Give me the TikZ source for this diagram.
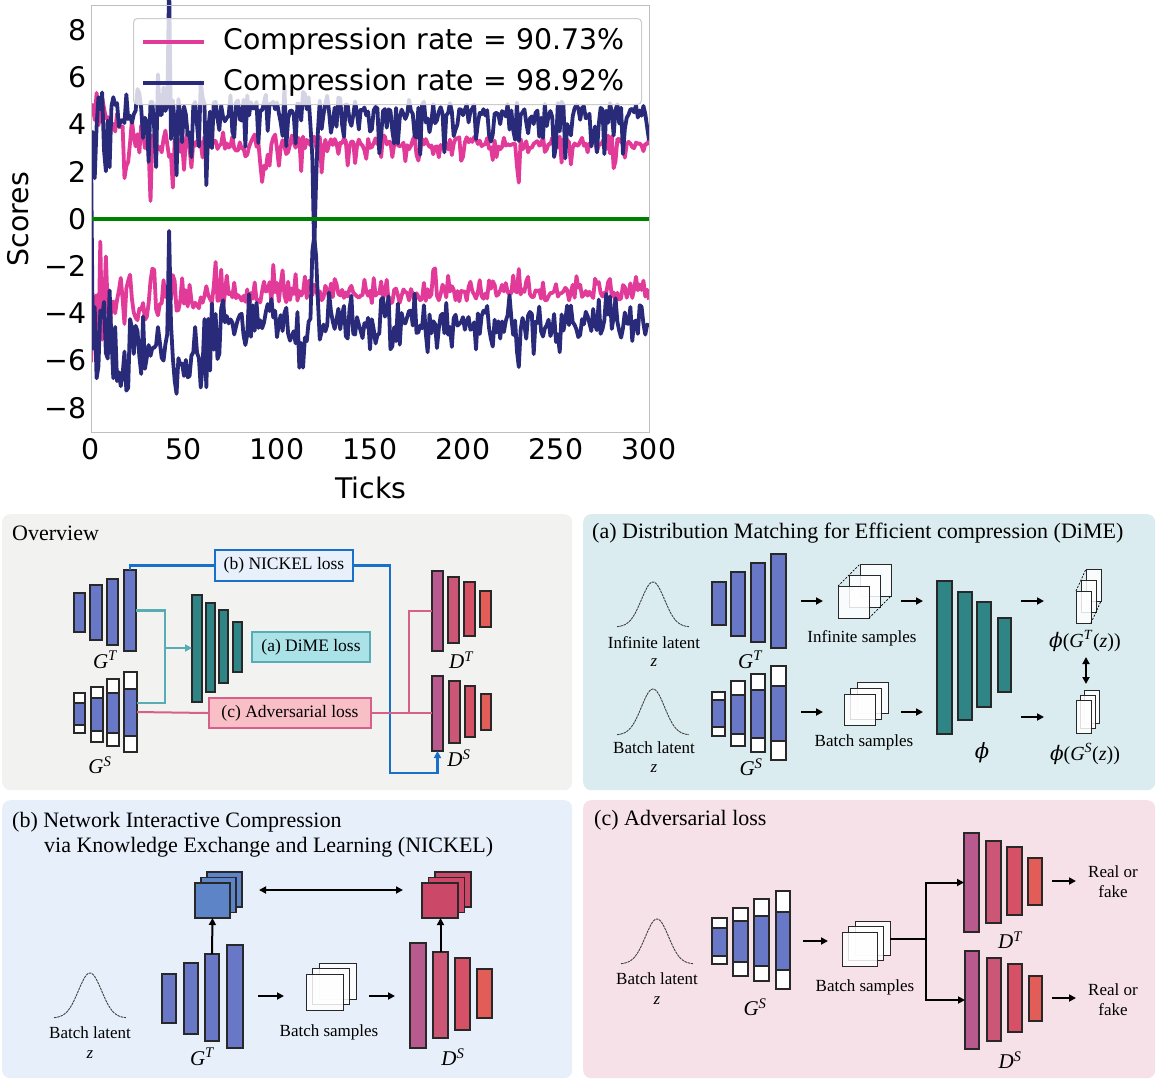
\documentclass[tikz,border=0pt]{standalone}
\usepackage{fontspec}
\setmainfont{Liberation Serif}
\newfontfamily\plotfont{DejaVu Sans}
\newfontfamily\phifont{DejaVu Serif}
\usetikzlibrary{arrows.meta}
\definecolor{pinkc}{RGB}{226,58,152}
\definecolor{navyc}{RGB}{41,42,122}
\definecolor{greenc}{RGB}{0,128,0}
\definecolor{gblue}{RGB}{104,120,198}
\definecolor{edge}{RGB}{40,40,40}
\definecolor{tealbar}{RGB}{47,132,134}
\definecolor{bgO}{RGB}{242,242,241}
\definecolor{bgA}{RGB}{219,236,240}
\definecolor{bgB}{RGB}{231,240,250}
\definecolor{bgC}{RGB}{246,225,233}
\definecolor{nickc}{RGB}{24,112,200}
\definecolor{nickfill}{RGB}{232,241,251}
\definecolor{dimec}{RGB}{88,172,180}
\definecolor{dimefill}{RGB}{170,226,232}
\definecolor{advc}{RGB}{214,96,136}
\definecolor{advfill}{RGB}{248,192,198}
\definecolor{dA}{RGB}{184,90,142}
\definecolor{dB}{RGB}{204,86,118}
\definecolor{dC}{RGB}{214,80,102}
\definecolor{dD}{RGB}{226,92,88}
\definecolor{fblue}{RGB}{92,132,198}
\definecolor{fred}{RGB}{204,72,104}
\newcommand\ttl{\fontsize{22}{26}\selectfont}
\newcommand\lbl{\fontsize{17}{20}\selectfont}
\newcommand\mlab{\fontsize{21}{24}\selectfont\itshape}
\newcommand\pf{\plotfont\fontsize{28.4}{34}\selectfont}
\newcommand\bx[6]{\node[#6,anchor=north west,minimum width={(#4)-(#2)},minimum height={(#5)-(#3)}] (#1) at (#2,#3) {};}
\newcommand\stk[8]{%
 \node[#8,anchor=north west,minimum width=#4,minimum height=#5] (#1c) at ({#2+2*(#6)},{#3+2*(#7)}) {};
 \node[#8,anchor=north west,minimum width=#4,minimum height=#5] (#1b) at ({#2+#6},{#3+#7}) {};
 \node[#8,anchor=north west,minimum width=#4,minimum height=#5] (#1) at (#2,#3) {};}
\newcommand\gauss[3]{\draw[gline] plot[domain=-3.1:3.1,samples=61,variable=\u] ({#1+11.6*\u},{#3-(#3-#2)*exp(-\u*\u/2)});}
\tikzset{
 nb/.style={rectangle,inner sep=0pt,outer sep=0pt,draw=edge,line width=1.2pt},
 gb/.style={nb,fill=gblue},
 wb/.style={nb,fill=white},
 tb/.style={nb,fill=tealbar},
 db1/.style={nb,fill=dA}, db2/.style={nb,fill=dB}, db3/.style={nb,fill=dC}, db4/.style={nb,fill=dD},
 samp/.style={nb,line width=1pt,fill=white,fill opacity=0.85},
 fbs/.style={nb,fill=fblue},
 frs/.style={nb,fill=fred},
 panel/.style={rectangle,inner sep=0pt,rounded corners=8pt,anchor=north west},
 gline/.style={draw=black!75,line width=0.9pt,dash pattern=on 2.5pt off 0.8pt},
 arr/.style={line width=2pt,-{Triangle[length=7pt,width=7pt]}},
 darr/.style={line width=2pt,{Triangle[length=7pt,width=7pt]}-{Triangle[length=7pt,width=7pt]}},
 dsh/.style={line width=0.7pt,dash pattern=on 2pt off 1.5pt},
 lossbox/.style={rectangle,inner sep=0pt,line width=2pt,font=\fontsize{17.5}{20}\selectfont},
}
\begin{document}
\begin{tikzpicture}[x=1pt,y=-1pt,
 declare function={
  sp(\x,\c)=(abs(\x-\c)<0.5);
  gg(\x)=exp(-min(\x*\x,12));
  ex(\x)=exp(-min(\x,10));
  pu(\x)=3.3+1.5*ex(\x/12)+(0.25+0.8*ex(\x/40))*rand-(1.0+2.8*ex(\x/50))*pow(rnd,4)-1.9*sp(\x,230)+1.3*sp(\x,3);
  pl(\x)=-3.2-0.5*ex(\x/120)-1.8*ex(\x/12)+(0.25+0.8*ex(\x/40))*rand+(1.0+2.8*ex(\x/50))*pow(rnd,4)+1.4*sp(\x,230)-1.2*sp(\x,3)-1.2*sp(\x,4)+2.5*sp(\x,8);
  nu(\x)=4.6+0.2*ex(\x/100)+(0.3+0.7*ex(\x/60))*rand-(2.0+2.8*ex(\x/50))*pow(rnd,4)+(2*ex(\x/120))*pow(rnd,6)+5.5*sp(\x,42)-3*sp(\x,62)-4.4*sp(\x,120)-2.2*sp(\x,119)-2.2*sp(\x,121)-3.4*sp(\x,0);
  nl(\x)=-4.4-0.3*ex(\x/100)-2.2*gg((\x-50)/18)-1.6*gg((\x-15)/9)-1.6*gg((\x-114)/3)+(0.45+1.1*ex(\x/80))*rand+(1.2+1.6*ex(\x/60))*pow(rnd,4)-(0.8+1.2*ex(\x/60))*pow(rnd,4)+6.5*sp(\x,42)+4.4*sp(\x,120)+2.4*sp(\x,121)+2.4*sp(\x,119)+4*sp(\x,0)-1.2*sp(\x,230);
 }]
\useasboundingbox (0,0) rectangle (1157,1080);
\fill[white] (0,0) rectangle (1157,1080);
% ---------------- plot ----------------
\begin{scope}
 \clip (91,0) rectangle (649,432);
 \begin{scope}[shift={(91,219)},xscale=1.86,yscale=-23.6,line width=3.8pt,line join=round]
  \pgfmathsetseed{11}
  \draw[pinkc] plot[domain=0:300,samples=301,variable=\t] (\t,{pu(\t)});
  \pgfmathsetseed{23}
  \draw[pinkc] plot[domain=0:300,samples=301,variable=\t] (\t,{pl(\t)});
  \pgfmathsetseed{37}
  \draw[navyc] plot[domain=0:300,samples=301,variable=\t] (\t,{nu(\t)});
  \pgfmathsetseed{53}
  \draw[navyc] plot[domain=0:300,samples=301,variable=\t] (\t,{nl(\t)});
 \end{scope}
\end{scope}
\coordinate (z0) at (91,219);
\coordinate (z1) at (649,219);
\draw[greenc,line width=4pt] (z0) -- (z1);
\node[rectangle,draw=black!25,line width=1pt,anchor=north west,minimum width=558,minimum height=427,inner sep=0pt] (axes) at (91,5) {};
\node[rectangle,draw=black!20,line width=1pt,fill=white,fill opacity=0.8,rounded corners=4pt,anchor=north west,minimum width=508,minimum height=86,inner sep=0pt] (legend) at (133,18) {};
\coordinate (lp1) at (143,42); \coordinate (lp2) at (204,42);
\coordinate (ln1) at (143,83); \coordinate (ln2) at (204,83);
\draw[pinkc,line width=3.8pt] (lp1) -- (lp2);
\draw[navyc,line width=3.8pt] (ln1) -- (ln2);
\node[anchor=west,font=\pf,inner sep=0pt] (lt1) at (223,42) {Compression rate = 90.73\%};
\node[anchor=west,font=\pf,inner sep=0pt] (lt2) at (223,83) {Compression rate = 98.92\%};
\foreach \v/\l [count=\i] in {8/8,6/6,4/4,2/2,0/0,-2/−2,-4/−4,-6/−6,-8/−8}
 \node[anchor=east,font=\pf,inner sep=0pt] (yt\i) at (87,{219-23.6*\v}) {\l};
\foreach \v [count=\i] in {0,50,...,300}
 \node[font=\pf,inner sep=0pt] (xt\i) at ({91+1.86*\v},449) {\v};
\node[font=\pf,rotate=90,inner sep=0pt] (ylab) at (18,219) {Scores};
\node[font=\pf,inner sep=0pt] (xlab) at (371,488) {Ticks};
% ---------------- panels ----------------
\node[panel,fill=bgO,minimum width=570,minimum height=276] (pO) at (2,514) {};
\node[panel,fill=bgA,minimum width=572,minimum height=276] (pA) at (583,514) {};
\node[panel,fill=bgB,minimum width=570,minimum height=278] (pB) at (2,800) {};
\node[panel,fill=bgC,minimum width=572,minimum height=278] (pC) at (583,800) {};
\node[anchor=west,font=\ttl,inner sep=0pt] (tO) at (12,533) {Overview};
\node[anchor=west,font=\ttl,inner sep=0pt] (tA) at (592,533) {(a) Distribution Matching for Efficient compression (DiME)};
\node[anchor=west,font=\ttl,inner sep=0pt] (tB1) at (12,822) {(b) Network Interactive Compression};
\node[anchor=west,font=\ttl,inner sep=0pt] (tB2) at (44,847) {via Knowledge Exchange and Learning (NICKEL)};
\node[anchor=west,font=\ttl,inner sep=0pt] (tC) at (594,820) {(c) Adversarial loss};
% ---------------- overview ----------------
\bx{OGT1}{74}{593}{85}{632}{gb}
\bx{OGT2}{90}{585}{102}{640}{gb}
\bx{OGT3}{107}{579}{118}{645}{gb}
\bx{OGT4}{124}{570}{136}{651}{gb}
\bx{OGS1}{74}{693}{85}{733}{wb}
\bx{OGS2}{91}{687}{103}{742}{wb}
\bx{OGS3}{107}{679}{119}{746}{wb}
\bx{OGS4}{124}{672}{137}{752}{wb}
\bx{OGSi1}{74}{703}{85}{725}{gb}
\bx{OGSi2}{91}{698}{103}{731}{gb}
\bx{OGSi3}{107}{693}{119}{733}{gb}
\bx{OGSi4}{124}{689}{137}{736}{gb}
\bx{OP1}{192}{595}{202}{702}{tb}
\bx{OP2}{206}{603}{215}{692}{tb}
\bx{OP3}{219}{610}{228}{683}{tb}
\bx{OP4}{233}{622}{242}{672}{tb}
\bx{ODT1}{432}{571}{443}{651}{db1}
\bx{ODT2}{448}{577}{459}{643}{db2}
\bx{ODT3}{464}{582}{475}{636}{db3}
\bx{ODT4}{480}{591}{491}{627}{db4}
\bx{ODS1}{432}{676}{443}{751}{db1}
\bx{ODS2}{449}{681}{460}{743}{db2}
\bx{ODS3}{465}{686}{475}{737}{db3}
\bx{ODS4}{481}{694}{491}{730}{db4}
\node[font=\mlab] (lOGT) at (105,660) {G\textsuperscript{T}};
\node[font=\mlab] (lOGS) at (100,765) {G\textsuperscript{S}};
\node[font=\mlab] (lODT) at (461,660) {D\textsuperscript{T}};
\node[font=\mlab] (lODS) at (459,758) {D\textsuperscript{S}};
\node[lossbox,draw=nickc,fill=nickfill,minimum width=138,minimum height=31] (nickel) at (284,565.5) {(b) NICKEL loss};
\node[lossbox,draw=dimec,fill=dimefill,minimum width=118,minimum height=30] (dime) at (311,647) {(a) DiME loss};
\node[lossbox,draw=advc,fill=advfill,minimum width=162,minimum height=30] (adv) at (290,713) {(c) Adversarial loss};
% teal connectors
\coordinate (tj) at (165,648);
\draw[dimec,line width=2.4pt] (OGT4.east) -| (tj);
\draw[dimec,line width=2.4pt] ([yshift=9pt]OGS4.east) -| (tj);
\draw[dimec,line width=2.4pt,-{Triangle[length=7pt,width=7pt]}] (tj) -- (OP1.west |- tj);
% nickel connectors
\coordinate (nj) at (390,773);
\draw[nickc,line width=2.6pt] (OGT4.north) |- (nickel.west);
\draw[nickc,line width=2.6pt,-{Triangle[length=7pt,width=7pt]}] (nickel.east) -| (nj) -| (ODS1.south);
% adversarial connectors
\coordinate (pj) at (409,713);
\draw[advc,line width=2pt] (OGS4.east) -- (adv.west);
\draw[advc,line width=2pt] (adv.east) -- (ODS1.west |- adv.east);
\draw[advc,line width=2pt] (pj) |- (ODT1.west);
% ---------------- (a) ----------------
\gauss{653}{582}{627}
\gauss{653}{689}{735}
\node[font=\lbl] (aInf) at (654,643) {Infinite latent};
\node[font=\lbl\itshape] (aZ1) at (654,663) {z};
\node[font=\lbl] (aBat) at (654,748) {Batch latent};
\node[font=\lbl\itshape] (aZ2) at (654,769) {z};
\bx{AGT1}{712}{582}{726}{625}{gb}
\bx{AGT2}{731}{572}{745}{636}{gb}
\bx{AGT3}{751}{563}{765}{642}{gb}
\bx{AGT4}{771}{554}{786}{648}{gb}
\bx{AGS1}{712}{692}{725}{736}{wb}
\bx{AGS2}{731}{681}{745}{746}{wb}
\bx{AGS3}{751}{674}{765}{752}{wb}
\bx{AGS4}{771}{666}{786}{760}{wb}
\bx{AGSi1}{712}{700}{725}{727}{gb}
\bx{AGSi2}{731}{695}{745}{734}{gb}
\bx{AGSi3}{751}{690}{765}{738}{gb}
\bx{AGSi4}{771}{686}{786}{741}{gb}
\node[font=\mlab] (lAGT) at (750,660) {G\textsuperscript{T}};
\node[font=\mlab] (lAGS) at (751,767) {G\textsuperscript{S}};
\coordinate (aa1) at (801,601); \coordinate (aa2) at (823,601);
\coordinate (ab1) at (801,712); \coordinate (ab2) at (823,712);
\draw[arr] (aa1) -- (aa2);
\draw[arr] (ab1) -- (ab2);
\stk{AIS}{838}{586}{31}{32}{11}{-11}{samp}
\draw[dsh] (AIS.north west) -- (AISc.north west);
\draw[dsh] (AIS.south east) -- (AISc.south east);
\stk{ABS}{844}{694}{31}{31}{6.5}{-6}{samp}
\node[font=\lbl] (aIS) at (862,638) {Infinite samples};
\node[font=\lbl] (aBS) at (864,742) {Batch samples};
\coordinate (ac1) at (901,601); \coordinate (ac2) at (923,601);
\coordinate (ad1) at (901,712); \coordinate (ad2) at (923,712);
\draw[arr] (ac1) -- (ac2);
\draw[arr] (ad1) -- (ad2);
\bx{AP1}{937}{581}{952}{734}{tb}
\bx{AP2}{958}{592}{972}{720}{tb}
\bx{AP3}{977}{602}{991}{707}{tb}
\bx{AP4}{998}{618}{1011}{692}{tb}
\node[font=\fontsize{21}{24}\selectfont] (lPhi) at (982,753) {\phifont\itshape ϕ};
\coordinate (ae1) at (1021,601); \coordinate (ae2) at (1044,601);
\coordinate (af1) at (1021,717); \coordinate (af2) at (1044,717);
\draw[arr] (ae1) -- (ae2);
\draw[arr] (af1) -- (af2);
\stk{AOT}{1076}{591}{15}{32}{5}{-11}{samp}
\draw[dsh] (AOT.north west) -- (AOTc.north west);
\draw[dsh] (AOT.south east) -- (AOTc.south east);
\stk{AOS}{1076}{700}{15}{33}{4}{-5}{samp}
\node[font=\fontsize{20}{24}\selectfont] (lOT) at (1085,641) {{\phifont\itshape ϕ}(\textit{G}\textsuperscript{\textit{T}}(\textit{z}))};
\node[font=\fontsize{20}{24}\selectfont] (lOS) at (1085,754) {{\phifont\itshape ϕ}(\textit{G}\textsuperscript{\textit{S}}(\textit{z}))};
\coordinate (dd1) at (1086,657); \coordinate (dd2) at (1086,684);
\draw[darr] (dd1) -- (dd2);
% ---------------- (b) ----------------
\gauss{90}{973}{1018}
\node[font=\lbl] (bBat) at (90,1033) {Batch latent};
\node[font=\lbl\itshape] (bZ) at (90,1055) {z};
\bx{BGT1}{162}{974}{176}{1023}{gb}
\bx{BGT2}{184}{963}{198}{1034}{gb}
\bx{BGT3}{205}{954}{219}{1041}{gb}
\bx{BGT4}{227}{945}{243}{1048}{gb}
\node[font=\mlab] (lBGT) at (202,1057) {G\textsuperscript{T}};
\stk{BFB}{195}{883}{35}{35}{6}{-5.5}{fbs}
\draw[arr] (BGT3.north) -- (BFB.south);
\coordinate (ba1) at (258,996); \coordinate (ba2) at (284,996);
\draw[arr] (ba1) -- (ba2);
\stk{BBS}{306}{974}{37}{36}{6.5}{-5.5}{samp}
\node[font=\lbl] (bBS) at (329,1032) {Batch samples};
\coordinate (bb1) at (369,996); \coordinate (bb2) at (395,996);
\draw[arr] (bb1) -- (bb2);
\bx{BDS1}{410}{943}{426}{1048}{db1}
\bx{BDS2}{433}{952}{448}{1038}{db2}
\bx{BDS3}{455}{958}{470}{1030}{db3}
\bx{BDS4}{477}{969}{492}{1018}{db4}
\node[font=\mlab] (lBDS) at (453,1057) {D\textsuperscript{S}};
\stk{BFR}{422}{883}{36}{35}{6.5}{-5.5}{frs}
\draw[arr] (BDS2.north) -- (BDS2.north |- BFR.south);
\coordinate (bc1) at (259,890); \coordinate (bc2) at (403,890);
\draw[darr] (bc1) -- (bc2);
% ---------------- (c) ----------------
\gauss{657}{919}{964}
\node[font=\lbl] (cBat) at (657,979) {Batch latent};
\node[font=\lbl\itshape] (cZ) at (657,1001) {z};
\bx{CGS1}{712}{918}{727}{964}{wb}
\bx{CGS2}{733}{908}{748}{976}{wb}
\bx{CGS3}{754}{899}{769}{981}{wb}
\bx{CGS4}{776}{891}{790}{989}{wb}
\bx{CGSi1}{712}{928}{727}{956}{gb}
\bx{CGSi2}{733}{921}{748}{962}{gb}
\bx{CGSi3}{754}{916}{769}{966}{gb}
\bx{CGSi4}{776}{912}{790}{970}{gb}
\node[font=\mlab] (lCGS) at (755,1007) {G\textsuperscript{S}};
\coordinate (ca1) at (803,941); \coordinate (ca2) at (828,941);
\draw[arr] (ca1) -- (ca2);
\stk{CBS}{842}{932}{35}{34}{6.5}{-5.5}{samp}
\node[font=\lbl] (cBS) at (865,987) {Batch samples};
\bx{CDT1}{964}{833}{979}{932}{db1}
\bx{CDT2}{986}{841}{1001}{923}{db2}
\bx{CDT3}{1007}{847}{1022}{915}{db3}
\bx{CDT4}{1028}{858}{1042}{905}{db4}
\bx{CDS1}{965}{951}{979}{1049}{db1}
\bx{CDS2}{987}{958}{1001}{1041}{db2}
\bx{CDS3}{1008}{964}{1022}{1032}{db3}
\bx{CDS4}{1029}{976}{1042}{1021}{db4}
\node[font=\mlab] (lCDT) at (1010,940) {D\textsuperscript{T}};
\node[font=\mlab] (lCDS) at (1010,1060) {D\textsuperscript{S}};
\coordinate (cj) at (926,939);
\draw[line width=2.6pt] (CBSc.east |- cj) -- (cj);
\draw[arr] (cj) |- (CDT1.west);
\draw[arr] (cj) |- (CDS1.west);
\coordinate (cb1) at (1052,881); \coordinate (cb2) at (1076,881);
\coordinate (cc1) at (1052,998); \coordinate (cc2) at (1076,998);
\draw[arr] (cb1) -- (cb2);
\draw[arr] (cc1) -- (cc2);
\node[font=\lbl,align=center] (cR1) at (1113,882) {Real or\\fake};
\node[font=\lbl,align=center] (cR2) at (1113,1000) {Real or\\fake};
\end{tikzpicture}
\end{document}
